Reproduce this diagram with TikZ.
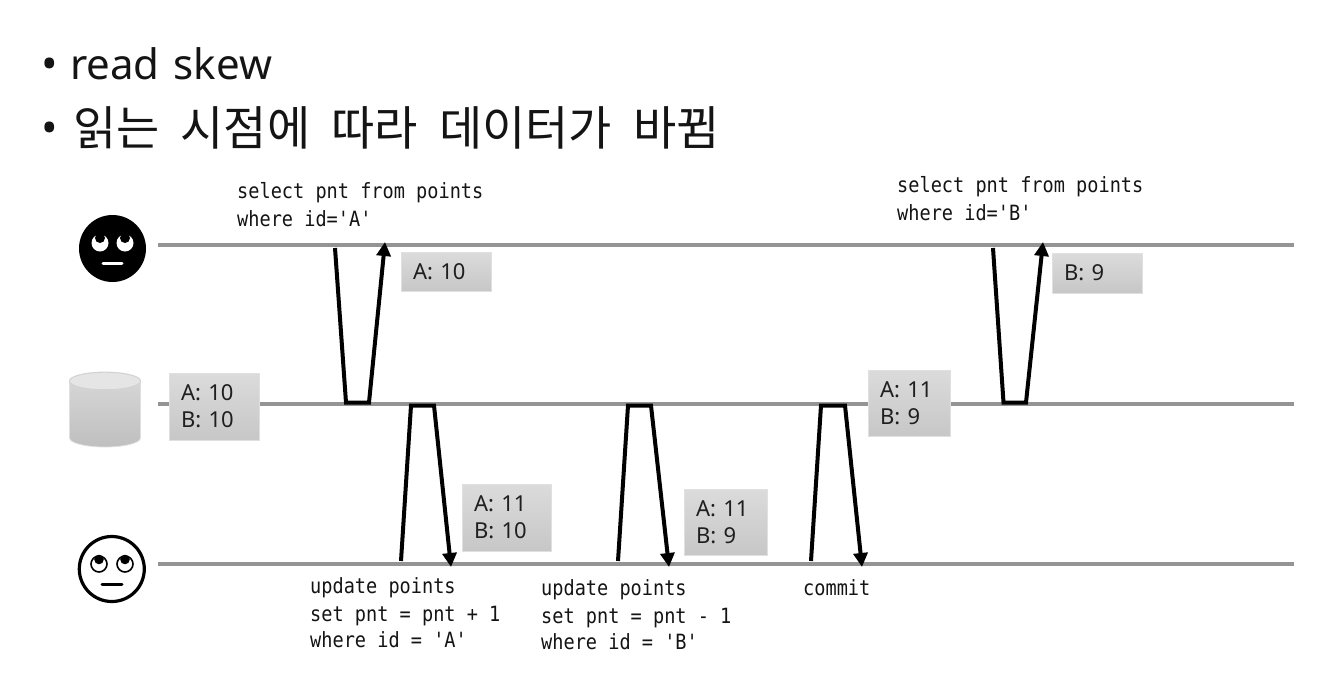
\documentclass[tikz,border=0pt]{standalone}
\usepackage{fontspec}
\usetikzlibrary{arrows.meta}
\setmainfont{Noto Sans}
\newfontfamily\krfont[WordSpace=2]{Noto Sans CJK KR}
\newfontfamily\codefont[FakeStretch=0.885]{DejaVu Sans Mono}
\tikzset{
  life/.style={draw=black!42, line width=3.5pt},
  msg/.style={draw=black, line width=4pt, line join=miter, -{Triangle[width=14pt,length=14pt]}},
  valbox/.style={draw=black!12, line width=0.8pt, top color=black!14, bottom color=black!22, inner sep=0pt, inner xsep=12pt, align=left, font=\fontsize{22}{27}\selectfont, text=black!88, anchor=center},
  code/.style={anchor=base west, inner sep=0pt, font=\codefont\fontsize{21}{21}\selectfont, text=black!92},
  title/.style={anchor=base west, inner sep=0pt, text=black!92}
}
\begin{document}
\begin{tikzpicture}[x=1pt,y=-1pt]
\useasboundingbox (0,0) rectangle (1328,686);
\fill[white] (0,0) rectangle (1328,686);
% title
\node[title,font=\fontsize{44}{44}\selectfont] (b1) at (41,79) {•};
\node[title,font=\fontsize{42}{42}\selectfont] (t1) at (70,79) {read\hspace{3pt} skew};
\node[title,font=\fontsize{44}{44}\selectfont] (b2) at (41,143) {•};
\node[title,font=\krfont\fontsize{47}{47}\selectfont] (t2) at (73,145) {읽는 시점에 따라 데이터가 바뀜};
% lifelines
\coordinate (u1s) at (158,245); \coordinate (u1e) at (1294,245);
\coordinate (dbs) at (158,404); \coordinate (dbe) at (1294,404);
\coordinate (u2s) at (158,564); \coordinate (u2e) at (1294,564);
\draw[life] (u1s) -- (u1e);
\draw[life] (dbs) -- (dbe);
\draw[life] (u2s) -- (u2e);
% black face
\fill[black] (112.5,248.5) circle (33.5);
\fill[white] (100,243) circle (8.5);
\fill[white] (125,243) circle (8.5);
\fill[black] (100,238) circle (5);
\fill[black] (125,238) circle (5);
\draw[white,line width=3pt,line cap=round] (103,263.5) -- (122,263.5);
% outline face
\draw[black,line width=3.2pt,fill=white] (111.8,569) circle (32.5);
\draw[black,line width=1.6pt] (99,564) circle (8);
\draw[black,line width=1.6pt] (125,564) circle (8);
\fill[black] (99,559.5) circle (4.8);
\fill[black] (125,559.5) circle (4.8);
\draw[black,line width=3pt,line cap=round] (102,584.5) -- (122,584.5);
% database
\path[top color=black!15, bottom color=black!25, draw=black!12, line width=0.8pt]
  (69.5,381) -- (69.5,438) arc[start angle=180, end angle=0, x radius=35.5, y radius=9] -- (140.5,381) arc[start angle=0, end angle=-180, x radius=35.5, y radius=9] -- cycle;
\draw[fill=black!10, draw=black!18, line width=0.8pt] (105,381) ellipse [x radius=35.5, y radius=8.7];
% connectors
\coordinate (a1) at (335,248); \coordinate (a2) at (346,402.5); \coordinate (a3) at (369,402.5); \coordinate (a4) at (385,242);
\draw[msg] (a1) -- (a2) -- (a3) -- (a4);
\coordinate (b1s) at (993,248); \coordinate (b2c) at (1003.5,402.5); \coordinate (b3c) at (1026,402.5); \coordinate (b4c) at (1043,242);
\draw[msg] (b1s) -- (b2c) -- (b3c) -- (b4c);
\coordinate (c1) at (401,561); \coordinate (c2) at (411,405.5); \coordinate (c3) at (434,405.5); \coordinate (c4) at (451,567);
\draw[msg] (c1) -- (c2) -- (c3) -- (c4);
\coordinate (d1) at (618,561); \coordinate (d2) at (628,405.5); \coordinate (d3) at (651,405.5); \coordinate (d4) at (669,567);
\draw[msg] (d1) -- (d2) -- (d3) -- (d4);
\coordinate (e1) at (811,561); \coordinate (e2) at (821,405.5); \coordinate (e3) at (845,405.5); \coordinate (e4) at (862,567);
\draw[msg] (e1) -- (e2) -- (e3) -- (e4);
% value boxes
\node[valbox,minimum width=90pt,minimum height=39pt,text width=66pt] (v1) at (446,271.5) {A: 10};
\node[valbox,minimum width=90pt,minimum height=67pt,text width=66pt] (v2) at (214,406.5) {A: 10\\B: 10};
\node[valbox,minimum width=90pt,minimum height=40pt,text width=66pt] (v3) at (1097,273) {B: 9};
\node[valbox,minimum width=82pt,minimum height=66pt,text width=58pt] (v4) at (909,403) {A: 11\\B: 9};
\node[valbox,minimum width=89pt,minimum height=67pt,text width=65pt] (v5) at (506.5,517.5) {A: 11\\B: 10};
\node[valbox,minimum width=83pt,minimum height=66pt,text width=59pt] (v6) at (725.5,522) {A: 11\\B: 9};
% code
\node[code] (s1) at (237,198) {select pnt from points};
\node[code] (s2) at (237,226) {where id='A'};
\node[code] (s3) at (897,192) {select pnt from points};
\node[code] (s4) at (897,220) {where id='B'};
\node[code] (u1) at (310,593) {update points};
\node[code] (u2) at (310,621) {set pnt = pnt + 1};
\node[code] (u3) at (310,647) {where id = 'A'};
\node[code] (u4) at (541,595) {update points};
\node[code] (u5) at (541,623) {set pnt = pnt - 1};
\node[code] (u6) at (541,649) {where id = 'B'};
\node[code] (u7) at (803,595) {commit};
\end{tikzpicture}
\end{document}
